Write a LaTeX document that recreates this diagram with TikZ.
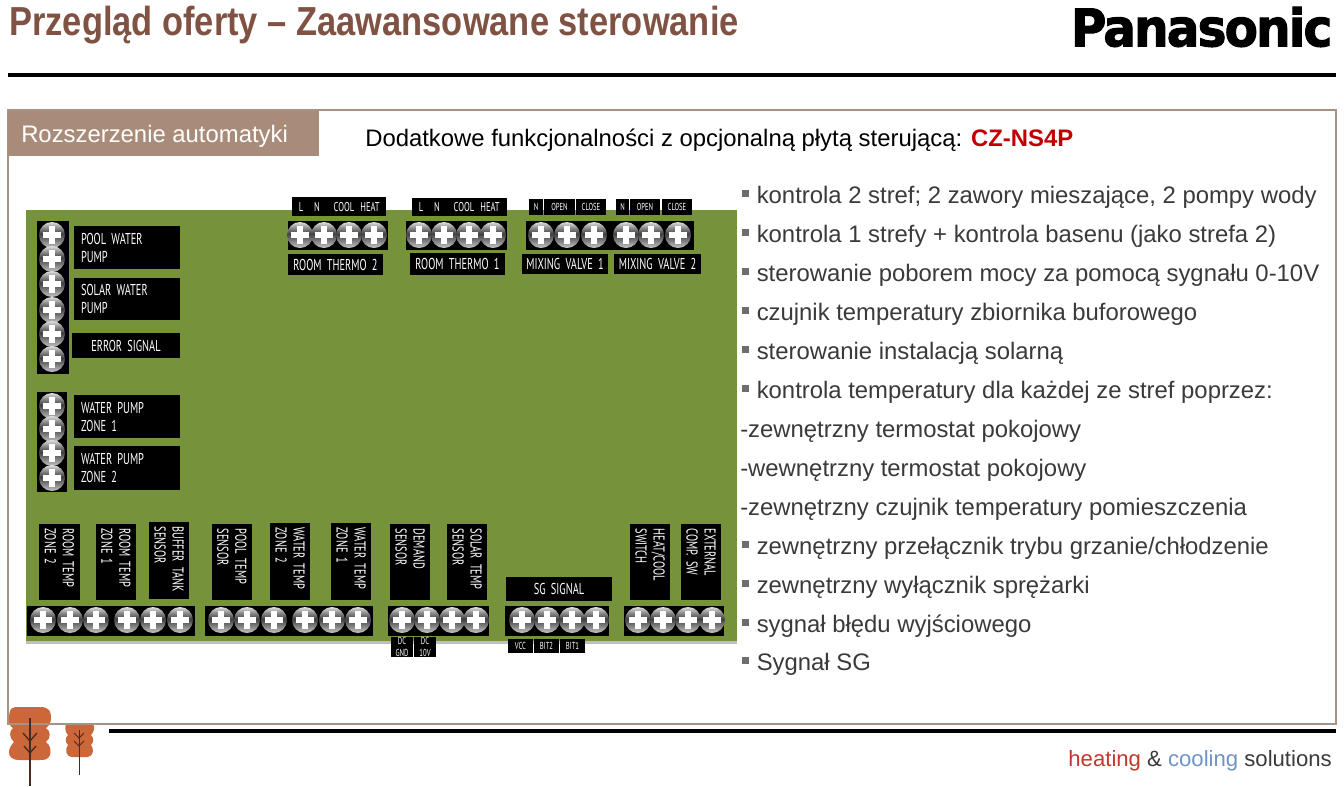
\documentclass[tikz,border=0pt]{standalone}
\usepackage{fontspec}
\setmainfont{Liberation Sans}
\newfontfamily\labfont[FakeStretch=0.66,WordSpace=0.6]{PT Sans}
\newfontfamily\titlefont[FakeStretch=0.85]{Liberation Sans}
\newfontfamily\logofont[LetterSpace=-4,FakeBold=2]{DejaVu Sans}
\definecolor{frameC}{HTML}{A89284}
\definecolor{tabC}{HTML}{A98B79}
\definecolor{titleC}{HTML}{7F5243}
\definecolor{greenC}{HTML}{76933C}
\definecolor{treeC}{HTML}{CB6738}
\definecolor{trunkC}{HTML}{4A2A20}
\definecolor{bodyC}{HTML}{3A3A3A}
\definecolor{bulC}{HTML}{6E6E6E}
\pgfdeclareverticalshading{screwshade}{100bp}{
  color(0bp)=(black!22); color(25bp)=(black!22); color(38bp)=(black!48); color(52bp)=(black!75); color(64bp)=(black!45); color(75bp)=(black!12); color(100bp)=(black!12)}
\tikzset{
  lbox/.style={fill=black,text=white,inner xsep=0pt,inner ysep=0pt,font=\labfont\fontsize{11.8}{13.5}\selectfont,align=left},
  cbox/.style={fill=black,text=white,inner sep=0pt,font=\labfont\fontsize{11.8}{13.5}\selectfont,align=center},
  tbox/.style={fill=black,text=white,inner sep=0pt,font=\labfont\fontsize{7.6}{9.5}\selectfont,align=center},
  strip/.style={fill=black,draw=none,inner sep=0pt},
  screw/.style={circle,minimum size=19.5pt,inner sep=0pt,draw=none,shading=screwshade,
    path picture={
      \fill[white] ([xshift=-7pt,yshift=-2.1pt]path picture bounding box.center) rectangle ([xshift=7pt,yshift=2.1pt]path picture bounding box.center);
      \fill[white] ([xshift=-2.1pt,yshift=-7pt]path picture bounding box.center) rectangle ([xshift=2.1pt,yshift=7pt]path picture bounding box.center);
    }},
  rowtext/.style={anchor=base west,inner sep=0pt,text=bodyC,font=\fontsize{17.9}{20}\selectfont},
  bul/.style={fill=bulC,draw=none,minimum size=4.6pt,inner sep=0pt},
  tree/.style={fill=treeC,draw=none},
}
\newcommand\hlab[6]{\node[lbox,text width={(#4-#2-14)*0.75pt},inner xsep=5.25pt,minimum height={(#5-#3)*0.75pt},minimum width={(#4-#2)*0.75pt}] (#1) at ({(#2+#4)/2},{(#3+#5)/2}) {#6};}
\newcommand\clab[6]{\node[cbox,text width={(#4-#2)*0.75pt},minimum height={(#5-#3)*0.75pt}] (#1) at ({(#2+#4)/2},{(#3+#5)/2}) {#6};}
\newcommand\tlab[6]{\node[tbox,text width={(#4-#2)*0.75pt},minimum height={(#5-#3)*0.75pt}] (#1) at ({(#2+#4)/2},{(#3+#5)/2}) {#6};}
\newcommand\vlab[6]{\node[lbox,rotate=-90,text width={(#5-#3-9)*0.75pt},inner xsep=3.4pt,minimum height={(#4-#2)*0.75pt},minimum width={(#5-#3)*0.75pt}] (#1) at ({(#2+#4)/2},{(#3+#5)/2}) {#6};}
\newcommand\stripbox[5]{\node[strip,minimum width={(#4-#2)*0.75pt},minimum height={(#5-#3)*0.75pt}] (#1) at ({(#2+#4)/2},{(#3+#5)/2}) {};}
\begin{document}
\begin{tikzpicture}[x=0.75pt,y=-0.75pt]
\useasboundingbox (0,0) rectangle (1344,786);
\fill[white] (0,0) rectangle (1344,786);
% header
\node[anchor=base west,inner sep=0pt,text=titleC,font=\titlefont\bfseries\fontsize{30.4}{32}\selectfont] (title) at (9,35) {Przegląd oferty – Zaawansowane sterowanie};
\node[anchor=center,inner sep=0pt] (logo) at (1201.5,27) {\resizebox{196pt}{29.5pt}{\logofont\bfseries Panasonic}};
\coordinate (hl) at (8,75); \coordinate (hr) at (1336,75);
\draw[black,line width=2.4pt] (hl) -- (hr);
% trees
\fill[tree] (9,720) .. controls (9,707) and (12,707) .. (20,707) -- (40,707) .. controls (50,707) and (51,712) .. (51,718) .. controls (51,725) and (47,727) .. (46,728) .. controls (51,731) and (51,738) .. (46,742) .. controls (51,745) and (51,752) .. (50,755) .. controls (48,760) and (44,760) .. (40,760) -- (20,760) .. controls (12,760) and (9,757) .. (9,752) .. controls (9,748) and (12,744) .. (14,742) .. controls (9,738) and (9,731) .. (13,728) .. controls (10,726) and (9,724) .. (9,720) -- cycle;
\fill[tree] (66,723) -- (93,723) .. controls (95,728) and (94,732) .. (91,735) .. controls (94,738) and (94,742) .. (91,745) .. controls (94,748) and (94,756) .. (88,757) -- (72,757) .. controls (65,756) and (65,749) .. (68,745) .. controls (65,742) and (65,738) .. (68,735) .. controls (65,732) and (65,728) .. (66,723) -- cycle;
% frame and tab
\coordinate (fa) at (8,110); \coordinate (fb) at (1336,724);
\draw[frameC,line width=2.2pt] (fa) rectangle (fb);
\draw[trunkC,line width=1.3pt] (30,718) -- (30,786);
\draw[trunkC,line width=1pt] (23,733) -- (30,741) -- (37,733) (24,746) -- (30,753) -- (36,746);
\draw[trunkC,line width=.7pt] (79,730) -- (79,775);
\draw[trunkC,line width=.7pt] (74,733) -- (79,738) -- (84,733) (74,741) -- (79,746) -- (84,741);
\node[fill=tabC,minimum width=233.25pt,minimum height=33.75pt,inner sep=0pt] (tab) at (163.5,133.5) {};
\node[anchor=base west,inner sep=0pt,text=white,font=\fontsize{17.9}{20}\selectfont] (tabtext) at (21,142) {Rozszerzenie automatyki};
\node[anchor=base west,inner sep=0pt,text=black,font=\fontsize{17.9}{20}\selectfont] (sub) at (365,146) {Dodatkowe funkcjonalności z opcjonalną płytą sterującą: \textcolor[HTML]{C00000}{\bfseries CZ-NS4P}};
% footer
\coordinate (fl) at (109,731); \coordinate (fr) at (1336,731);
\draw[black,line width=2.4pt] (fl) -- (fr);
\node[anchor=base east,inner sep=0pt,font=\fontsize{16.6}{20}\selectfont] (slogan) at (1332,766) {\textcolor[HTML]{C0392B}{heating} \textcolor{bodyC}{\&} \textcolor[HTML]{6F94C4}{cooling} \textcolor{bodyC}{solutions}};
% board
\fill[black!25] (26,641) rectangle (737,644);
\fill[greenC] (26,210) rectangle (737,641);
% left strips
\stripbox{s1}{37}{221}{69}{374}
\stripbox{s2}{37}{392}{67}{492}
\foreach \y in {235,259,284,310,334,359,406,429,453,478}{\node[screw] at (52,\y) {};}
\hlab{pool}{74}{226}{180}{269}{POOL WATER\\PUMP}
\hlab{solar}{74}{278}{180}{320}{SOLAR WATER\\PUMP}
\clab{err}{72}{333}{180}{358}{ERROR SIGNAL}
\hlab{wz1}{74}{395}{180}{438}{WATER PUMP\\ZONE 1}
\hlab{wz2}{74}{446}{180}{490}{WATER PUMP\\ZONE 2}
% top strips
\stripbox{s3}{288}{221}{388}{250}
\stripbox{s4}{406}{221}{507}{250}
\stripbox{s5}{526}{221}{694}{250}
\foreach \x in {300,324,349,374,419,444,469,493,541,567,594,626,651,678}{\node[screw] at (\x,235) {};}
\clab{t2}{292}{197}{386}{216}{}
\clab{t1}{412}{198}{507}{216}{}
\foreach \nm/\x/\t in {a/301/L,b/317/N,c/344/COOL,d/370/HEAT}{\node[text=white,inner sep=0pt,font=\labfont\fontsize{9.6}{10}\selectfont] (th2\nm) at (\x,207) {\t};}
\foreach \nm/\x/\t in {a/421/L,b/437/N,c/464/COOL,d/490/HEAT}{\node[text=white,inner sep=0pt,font=\labfont\fontsize{9.6}{10}\selectfont] (th1\nm) at (\x,207) {\t};}
\clab{rt2}{288}{254}{383}{275}{ROOM THERMO 2}
\clab{rt1}{410}{253}{505}{275}{ROOM THERMO 1}
\tlab{mv1n}{529}{199}{543}{215}{N}
\tlab{mv1o}{544}{199}{575}{215}{OPEN}
\tlab{mv1c}{576}{199}{606}{215}{CLOSE}
\tlab{mv2n}{616}{199}{629}{215}{N}
\tlab{mv2o}{630}{199}{660}{215}{OPEN}
\tlab{mv2c}{662}{199}{692}{215}{CLOSE}
\clab{mv1}{522}{254}{608}{274}{MIXING VALVE 1}
\clab{mv2}{614}{254}{701}{274}{MIXING VALVE 2}
% bottom strips
\stripbox{s6}{27}{606}{195}{636}
\stripbox{s7}{205}{606}{373}{636}
\stripbox{s8}{388}{606}{489}{636}
\stripbox{s9}{505}{606}{609}{636}
\stripbox{s10}{624}{606}{724}{636}
\foreach \x in {43,70,96,127,153,180,221,247,274,305,332,358,402,427,452,476,522,547,572,596,638,663,688,712}{\node[screw] at (\x,620) {};}
\vlab{b1}{39}{524}{80}{600}{ROOM TEMP\\ZONE 2}
\vlab{b2}{96}{524}{136}{600}{ROOM TEMP\\ZONE 1}
\vlab{b3}{149}{522}{189}{599}{BUFFER TANK\\SENSOR}
\vlab{b4}{212}{524}{252}{600}{POOL TEMP\\SENSOR}
\vlab{b5}{270}{523}{310}{600}{WATER TEMP\\ZONE 2}
\vlab{b6}{331}{523}{371}{600}{WATER TEMP\\ZONE 1}
\vlab{b7}{390}{524}{430}{600}{DEMAND\\SENSOR}
\vlab{b8}{447}{524}{487}{600}{SOLAR TEMP\\SENSOR}
\vlab{b9}{630}{524}{670}{600}{HEAT/COOL\\SWITCH}
\vlab{b10}{681}{524}{721}{600}{EXTERNAL\\COMP. SW}
\clab{sg}{506}{577}{612}{601}{SG SIGNAL}
\tlab{dc1}{391}{637}{413}{657}{DC\\GND}
\tlab{dc2}{414}{637}{436}{657}{DC\\10V}
\tlab{vcc}{508}{639}{533}{653}{VCC}
\tlab{bit2}{534}{639}{559}{653}{BIT2}
\tlab{bit1}{560}{639}{585}{653}{BIT1}
% feature list
\foreach \n/\y/\t in {
 1/203/{kontrola 2 stref; 2 zawory mieszające, 2 pompy wody},
 2/242/{kontrola 1 strefy + kontrola basenu (jako strefa 2)},
 3/281/{sterowanie poborem mocy za pomocą sygnału 0-10V},
 4/320/{czujnik temperatury zbiornika buforowego},
 5/359/{sterowanie instalacją solarną},
 6/398/{kontrola temperatury dla każdej ze stref poprzez:},
 10/554/{zewnętrzny przełącznik trybu grzanie/chłodzenie},
 11/593/{zewnętrzny wyłącznik sprężarki},
 12/632/{sygnał błędu wyjściowego},
 13/670/{Sygnał SG}}{
  \node[rowtext] (row\n) at (756.5,\y) {\t};
  \node[bul] (bul\n) at (745.5,{\y-9.5}) {};
}
\foreach \n/\y/\t in {
 7/437/{-zewnętrzny termostat pokojowy},
 8/476/{-wewnętrzny termostat pokojowy},
 9/515/{-zewnętrzny czujnik temperatury pomieszczenia}}{
  \node[rowtext] (row\n) at (740,\y) {\t};
}
\end{tikzpicture}
\end{document}
